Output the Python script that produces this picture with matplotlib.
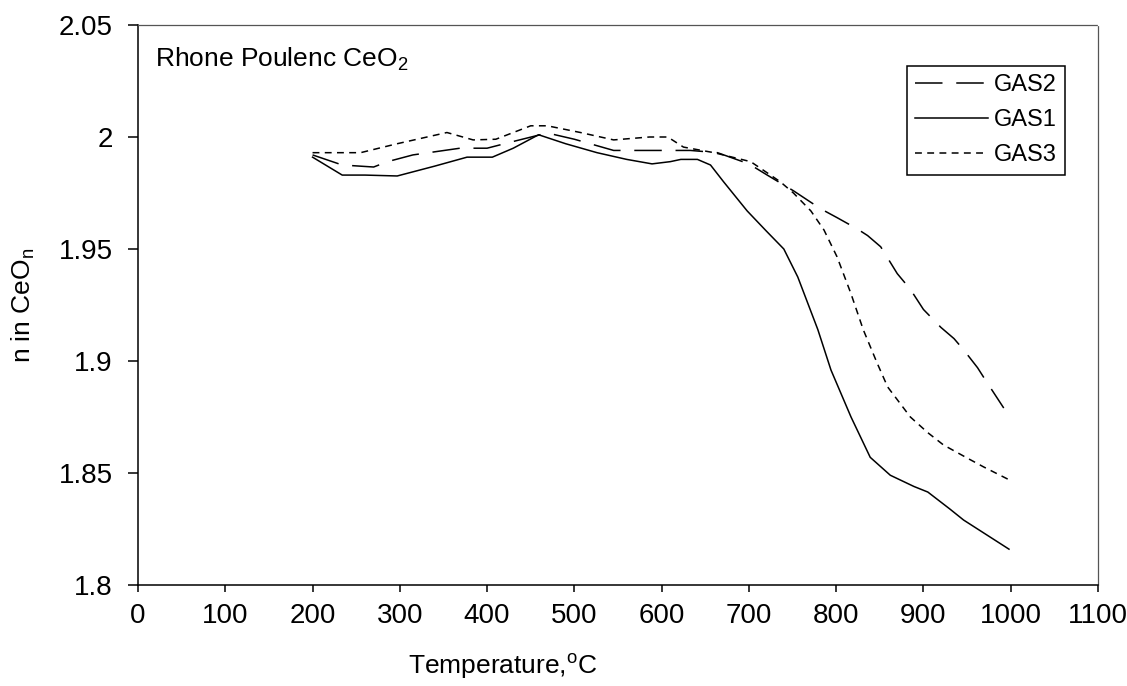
import matplotlib.pyplot as plt

plt.rcParams["font.family"] = ["Liberation Sans", "DejaVu Sans"]
plt.rcParams["mathtext.default"] = "regular"

gas1_t = [200, 234, 260, 297, 340, 377, 406, 430, 459, 490, 526, 560, 589, 610,
          622, 641, 656, 671, 698, 720, 740, 756, 779, 794, 817, 839, 862, 889,
          905, 930, 946, 970, 998]
gas1_n = [1.991, 1.983, 1.983, 1.9826, 1.987, 1.991, 1.991, 1.995, 2.001, 1.997,
          1.993, 1.990, 1.988, 1.989, 1.990, 1.990, 1.9875, 1.980, 1.967, 1.958,
          1.950, 1.9375, 1.914, 1.896, 1.875, 1.857, 1.849, 1.844, 1.8415, 1.834,
          1.829, 1.823, 1.816]

gas2_t = [200, 234, 270, 286, 315, 369, 400, 430, 469, 500, 545, 587, 633, 664,
          700, 721, 751, 782, 801, 824, 836, 851, 870, 885, 900, 920, 935, 946,
          962, 971, 992]
gas2_n = [1.992, 1.9875, 1.9866, 1.989, 1.992, 1.995, 1.995, 1.998, 2.0018, 1.999,
          1.994, 1.994, 1.994, 1.993, 1.988, 1.983, 1.976, 1.968, 1.964, 1.959,
          1.956, 1.951, 1.939, 1.932, 1.923, 1.915, 1.910, 1.905, 1.897, 1.8915,
          1.879]

gas3_t = [200, 255, 297, 354, 384, 410, 450, 469, 507, 545, 586, 607, 625, 660,
          702, 721, 736, 751, 771, 786, 801, 817, 831, 847, 859, 885, 905, 923,
          950, 969, 998]
gas3_n = [1.993, 1.993, 1.997, 2.002, 1.9987, 1.999, 2.005, 2.005, 2.002, 1.9987,
          2.000, 2.000, 1.9955, 1.993, 1.989, 1.984, 1.980, 1.975, 1.967, 1.9585,
          1.9465, 1.930, 1.914, 1.899, 1.8884, 1.875, 1.868, 1.8625, 1.8567,
          1.8527, 1.847]

x_ticks = list(range(0, 1101, 100))
y_ticks = [1.8, 1.85, 1.9, 1.95, 2.0, 2.05]
y_tick_labels = ["1.8", "1.85", "1.9", "1.95", "2", "2.05"]

fig = plt.figure(figsize=(11.27, 6.86), dpi=100)
ax = fig.add_axes([138 / 1127, 1 - 585 / 686, 960 / 1127, 560 / 686])

lw = 1.1
ax.plot(gas2_t, gas2_n, color="black", lw=lw, dashes=(18, 9), label="GAS2")
ax.plot(gas1_t, gas1_n, color="black", lw=lw, label="GAS1")
ax.plot(gas3_t, gas3_n, color="black", lw=lw, dashes=(4.5, 3.5), label="GAS3")

ax.set_xlim(0, 1100)
ax.set_ylim(1.8, 2.05)
ax.set_xticks(x_ticks)
ax.set_yticks(y_ticks)
ax.set_yticklabels(y_tick_labels)
ax.tick_params(axis="x", direction="out", length=5, width=1.1, pad=8, labelsize=20)
ax.tick_params(axis="y", direction="out", length=7, width=1.1, pad=11, labelsize=20)

for side in ["left", "bottom"]:
    ax.spines[side].set_linewidth(1.1)
    ax.spines[side].set_color("black")
for side in ["top", "right"]:
    ax.spines[side].set_linewidth(0.9)
    ax.spines[side].set_color("#555555")
    ax.spines[side].set_linestyle((0, (1, 1)))

ax.set_xlabel("Temperature,$^o$C", fontsize=19, va="center")
ax.xaxis.set_label_coords(0.38, -0.146)
ax.set_ylabel("n in CeO$_n$", fontsize=19, va="center")
ax.yaxis.set_label_coords(-0.119, 0.5)

ax.text(0.018, 0.962, "Rhone Poulenc CeO$_2$", transform=ax.transAxes,
        fontsize=19, va="top", ha="left")

leg = ax.legend(loc="upper right", bbox_to_anchor=(1065 / 1127, 1 - 66 / 686),
                bbox_transform=fig.transFigure, fontsize=17, handlelength=3.1,
                handletextpad=0.25, labelspacing=0.55, borderpad=0.35,
                borderaxespad=0, fancybox=False, framealpha=1)
leg.get_frame().set_edgecolor("black")
leg.get_frame().set_linewidth(1.1)

fig.savefig("out.png", dpi=100)
